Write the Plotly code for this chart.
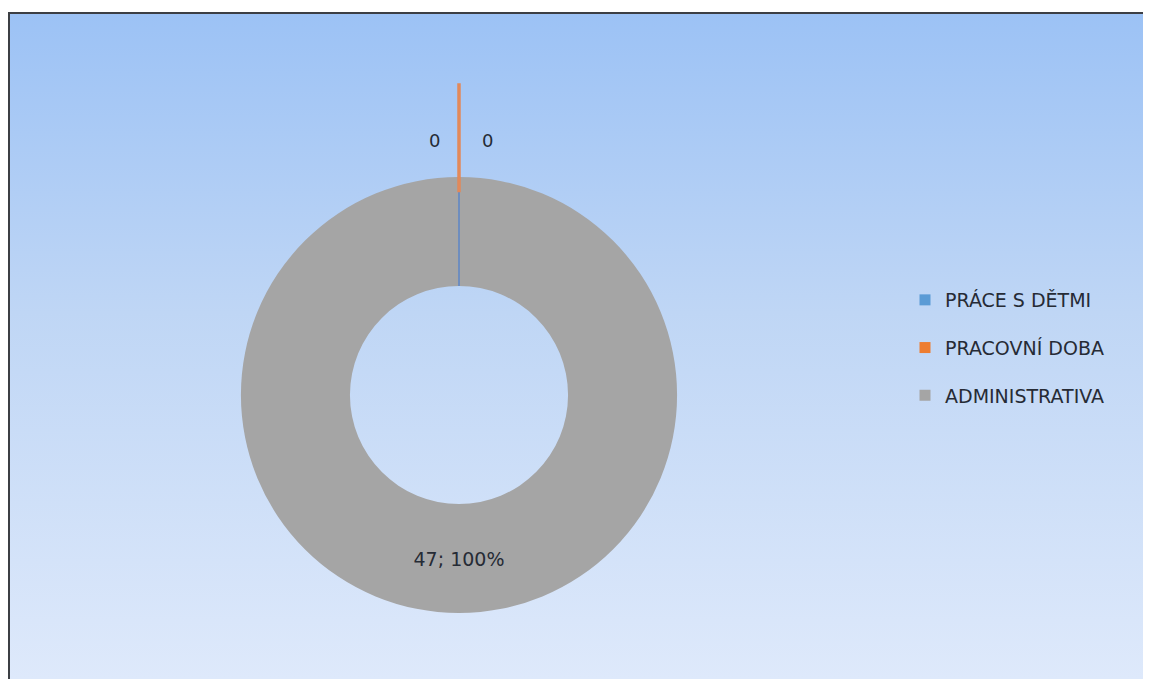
import base64, math
import plotly.graph_objects as go

# ---- data ----
categories = ["PRÁCE S DĚTMI", "PRACOVNÍ DOBA", "ADMINISTRATIVA"]
values = [0, 0, 47]
colors = ["#5B9BD5", "#ED7D31", "#A5A5A5"]

# ---- style / geometry (figure pixels; page adds 8px body margin) ----
W, H = 1143, 671
cx, cy = 451, 387          # pie centre
R_OUT = 218
HOLE = 0.5
pulls = [0.0, 0.43, 0.0]   # explode fraction of radius
label_dx = [-25, 28, 0]    # horizontal offset of outside labels
label_r = 255
zero_widths = [2.0, 3.5, 0]
zero_colors = ["#6E8DBE", "#E2895A", None]
txt_color = "#262B35"
FONT = "DejaVu Sans"

fig = go.Figure()

# gradient background (chart area)
svg = ('<svg xmlns="http://www.w3.org/2000/svg" width="100" height="100" preserveAspectRatio="none">'
       '<defs><linearGradient id="g" x1="0" y1="0" x2="0" y2="1">'
       '<stop offset="0" stop-color="#9CC2F5"/>'
       '<stop offset="0.45" stop-color="#BFD6F5"/>'
       '<stop offset="1" stop-color="#DEE9FB"/>'
       '</linearGradient></defs><rect width="100" height="100" fill="url(#g)"/></svg>')
src = "data:image/svg+xml;base64," + base64.b64encode(svg.encode()).decode()

left, top = 0, 4

fig.add_trace(go.Pie(
    labels=categories, values=values, sort=False, direction="clockwise", rotation=0,
    hole=HOLE,
    marker=dict(colors=colors, line=dict(width=0)),
    texttemplate="%{value}; %{percent:.0%}",
    textposition="inside", insidetextorientation="horizontal",
    textfont=dict(family=FONT, size=19, color=txt_color),
    showlegend=False, hoverinfo="label+value+percent",
    domain=dict(x=[(cx - R_OUT) / W, (cx + R_OUT) / W],
                y=[(H - cy - R_OUT) / H, (H - cy + R_OUT) / H]),
))

# legend entries
for i, (c, col) in enumerate(zip(categories, colors)):
    fig.add_trace(go.Scatter(
        x=[None], y=[None], mode="markers", name=c, legendgroup=str(i),
        marker=dict(symbol="square", size=11, color=col),
        xaxis="x", yaxis="y"))

# zero-value slices drawn as radial lines, plus their labels
total = sum(values)
cum = 0.0
shapes = []
annotations = []
for i, v in enumerate(values):
    frac_start = cum / total
    cum += v
    if v == 0:
        th = 2 * math.pi * frac_start
        off = pulls[i] * R_OUT
        r0 = R_OUT * HOLE + off
        r1 = R_OUT + off
        x0 = cx + r0 * math.sin(th); y0 = cy - r0 * math.cos(th)
        x1 = cx + r1 * math.sin(th); y1 = cy - r1 * math.cos(th)
        shapes.append(dict(type="line", xref="x", yref="y", x0=x0, y0=y0, x1=x1, y1=y1,
                           line=dict(color=zero_colors[i], width=zero_widths[i]), layer="above"))
        lx = cx + label_r * math.sin(th) + label_dx[i]
        ly = cy - label_r * math.cos(th)
        annotations.append(dict(x=lx, y=ly, xref="x", yref="y", text=str(v), showarrow=False,
                                font=dict(family=FONT, size=18, color=txt_color)))

# chart border
shapes.append(dict(type="rect", xref="paper", yref="paper",
                   x0=(left + 1) / W, x1=1.01, y0=-0.01, y1=1 - (top + 1) / H,
                   line=dict(color="#3C3F44", width=2), layer="above"))

fig.update_layout(
    width=W, height=H,
    margin=dict(l=0, r=0, t=0, b=0),
    paper_bgcolor="white", plot_bgcolor="rgba(0,0,0,0)",
    xaxis=dict(range=[0, W], visible=False, domain=[0, 1], fixedrange=True),
    yaxis=dict(range=[H, 0], visible=False, domain=[0, 1], fixedrange=True),
    images=[dict(source=src, xref="paper", yref="paper", x=(left + 1) / W, y=1 - (top + 1) / H,
                 sizex=1 - (left + 1) / W, sizey=1 - (top + 1) / H, sizing="stretch",
                 xanchor="left", yanchor="top", layer="below")],
    shapes=shapes, annotations=annotations,
    legend=dict(x=897 / W, y=1 - 273 / H, xanchor="left", yanchor="top",
                bgcolor="rgba(0,0,0,0)", tracegroupgap=20, itemwidth=30,
                font=dict(family=FONT, size=19, color=txt_color)),
    font=dict(family=FONT),
)

fig.write_html("out.html")
